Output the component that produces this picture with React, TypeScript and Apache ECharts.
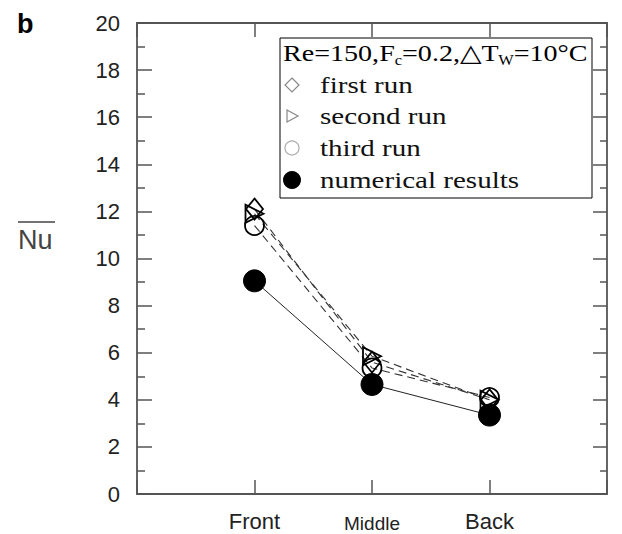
import React, { useEffect, useRef } from "react";
import * as echarts from "echarts";

const categories = ["Front", "Middle", "Back"];
const seriesNames = ["first run", "second run", "third run", "numerical results"];
const firstRun = [12.1, 5.6, 4.0];
const secondRun = [11.9, 5.85, 4.0];
const thirdRun = [11.4, 5.35, 4.1];
const numerical = [9.05, 4.65, 3.35];
const yMin = 0;
const yMax = 20;
const yInterval = 2;

const toPoints = (vals: number[]) => vals.map((v, i) => [i + 1, v]);

export default function App() {
  const ref = useRef<HTMLDivElement>(null);
  useEffect(() => {
    document.body.style.margin = "0";
    if (!ref.current) return;
    const chart = echarts.init(ref.current, null, { renderer: "svg" });
    const axisColor = "#555";
    const tickStyle = { color: axisColor, width: 1.5 };
    const dashed = { type: [8, 5] as any, width: 1.1, color: "#333" };
    const runStyle = { color: "transparent", borderColor: "#000", borderWidth: 1.8 };

    const serif = "'Liberation Serif', 'Times New Roman', serif";
    const sans = "'Liberation Sans', Arial, sans-serif";
    const legendRows = [85, 116, 148, 180];
    const sx = 292;
    const tx = 320;
    const LZ = 100;

    const legendSymbols: any[] = [
      {
        type: "polygon",
        z: LZ + 1,
        shape: { points: [[sx, legendRows[0] - 7], [sx + 7, legendRows[0]], [sx, legendRows[0] + 7], [sx - 7, legendRows[0]]] },
        style: { fill: "none", stroke: "#888", lineWidth: 1.2 },
      },
      {
        type: "polygon",
        z: LZ + 1,
        shape: { points: [[sx - 5, legendRows[1] - 6], [sx + 6, legendRows[1]], [sx - 5, legendRows[1] + 6]] },
        style: { fill: "none", stroke: "#888", lineWidth: 1.2 },
      },
      {
        type: "circle",
        z: LZ + 1,
        shape: { cx: sx, cy: legendRows[2], r: 7 },
        style: { fill: "none", stroke: "#aaa", lineWidth: 1.2 },
      },
      {
        type: "circle",
        z: LZ + 1,
        shape: { cx: sx, cy: legendRows[3], r: 9 },
        style: { fill: "#000" },
      },
    ];

    const legendTexts = seriesNames.map((n, i) => ({
      type: "text",
      z: LZ + 1,
      x: tx,
      y: legendRows[i],
      scaleX: 1.21,
      style: {
        text: n,
        font: `24px ${serif}`,
        fill: "#111",
        textVerticalAlign: "middle",
        verticalAlign: "middle",
      },
    }));

    const baseAxisLine = { show: true, onZero: false, lineStyle: { color: axisColor, width: 1.8 } };

    chart.setOption({
      animation: false,
      grid: { left: 137, top: 23, right: 15, bottom: 40 },
      xAxis: [
        {
          type: "value",
          min: 0,
          max: 4,
          interval: 1,
          position: "bottom",
          axisLine: baseAxisLine,
          axisTick: { show: true, inside: true, length: 14, lineStyle: tickStyle },
          splitLine: { show: false },
          axisLabel: {
            margin: 16,
            color: "#222",
            formatter: (v: number) => {
              const i = Math.round(v) - 1;
              if (i < 0 || i >= categories.length) return "";
              return i === 1 ? `{m|${categories[i]}}` : `{n|${categories[i]}}`;
            },
            rich: {
              n: { fontSize: 22, fontFamily: sans, color: "#222" },
              m: { fontSize: 19, fontFamily: sans, color: "#222", padding: [4, 0, 0, 0] },
            },
          },
        },
        {
          type: "value",
          min: 0,
          max: 4,
          interval: 1,
          position: "top",
          axisLine: baseAxisLine,
          axisTick: { show: true, inside: true, length: 14, lineStyle: tickStyle },
          splitLine: { show: false },
          axisLabel: { show: false },
        },
      ],
      yAxis: [
        {
          type: "value",
          min: yMin,
          max: yMax,
          interval: yInterval,
          position: "left",
          axisLine: baseAxisLine,
          axisTick: { show: true, inside: true, length: 15, lineStyle: tickStyle },
          minorTick: { show: true, splitNumber: 2, length: 8, lineStyle: tickStyle },
          splitLine: { show: false },
          axisLabel: { margin: 17, fontSize: 22, fontFamily: sans, color: "#222" },
        },
        {
          type: "value",
          min: yMin,
          max: yMax,
          interval: yInterval,
          position: "right",
          axisLine: baseAxisLine,
          axisTick: { show: true, inside: true, length: 14, lineStyle: tickStyle },
          minorTick: { show: true, splitNumber: 2, length: 7, lineStyle: tickStyle },
          splitLine: { show: false },
          axisLabel: { show: false },
        },
      ],
      series: [
        {
          name: seriesNames[0],
          type: "line",
          data: toPoints(firstRun),
          symbol: "diamond",
          symbolSize: [17, 21],
          lineStyle: dashed,
          itemStyle: runStyle,
          z: 3,
        },
        {
          name: seriesNames[1],
          type: "line",
          data: toPoints(secondRun),
          symbol: "triangle",
          symbolRotate: -90,
          symbolSize: 18,
          lineStyle: dashed,
          itemStyle: runStyle,
          z: 3,
        },
        {
          name: seriesNames[2],
          type: "line",
          data: toPoints(thirdRun),
          symbol: "circle",
          symbolSize: 19,
          lineStyle: dashed,
          itemStyle: runStyle,
          z: 3,
        },
        {
          name: seriesNames[3],
          type: "line",
          data: toPoints(numerical),
          symbol: "circle",
          symbolSize: 22,
          lineStyle: { type: "solid", width: 1, color: "#222" },
          itemStyle: { color: "#000", borderColor: "#000" },
          z: 4,
        },
      ],
      graphic: [
        {
          type: "text",
          x: 17,
          y: 10,
          style: { text: "b", font: `bold 27px ${sans}`, fill: "#000" },
        },
        {
          type: "text",
          x: 18,
          y: 240,
          style: { text: "Nu", font: `27px ${sans}`, fill: "#444", textVerticalAlign: "middle", verticalAlign: "middle" },
        },
        {
          type: "line",
          shape: { x1: 18, y1: 222, x2: 55, y2: 222 },
          style: { stroke: "#444", lineWidth: 1.5 },
        },
        {
          type: "rect",
          z: LZ,
          shape: { x: 280, y: 38, width: 312, height: 160 },
          style: { fill: "#fff", stroke: "#000", lineWidth: 1 },
        },
        {
          type: "text",
          z: LZ + 1,
          x: 283,
          y: 53,
          scaleX: 1.17,
          style: {
            text: "{n|Re=150,F}{s|c}{n|=0.2,△T}{s|W}{n|=10°C}",
            verticalAlign: "middle",
            textVerticalAlign: "middle",
            rich: {
              n: { fontSize: 24, fontFamily: serif, color: "#111", lineHeight: 28 },
              s: { fontSize: 14, fontFamily: serif, color: "#111", lineHeight: 14, padding: [14, 0, 0, 0] },
            },
          },
        },
        ...legendSymbols,
        ...legendTexts,
      ],
    });
    return () => chart.dispose();
  }, []);
  return <div ref={ref} style={{ width: 622, height: 534 }} />;
}
